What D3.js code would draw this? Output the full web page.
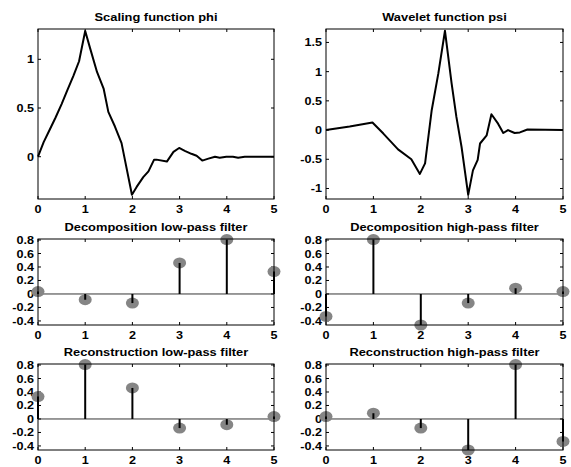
<!DOCTYPE html>
<meta charset="utf-8">
<style>
body { margin: 0; background: #fff; }
svg { display: block; }
text { font-family: "Liberation Sans", Arial, sans-serif; font-weight: bold; fill: #000; }
.title { font-size: 11px; }
.tick { font-size: 10.5px; }
.box { fill: none; stroke: #000; stroke-width: 1px; }
.curve { fill: none; stroke: #000; stroke-width: 2px; stroke-linejoin: round; }
.stem { stroke: #000; stroke-width: 2px; }
.base { stroke: #000; stroke-width: 0.8px; }
.mark { fill: #858585; }
</style>
<body>
<svg width="571" height="467"></svg>
<script src="https://d3js.org/d3.v7.min.js"></script>
<script>

// (db3)
var phiX = [0, 0.12, 0.25, 0.37, 0.5, 0.62, 0.75, 0.87, 1, 1.1, 1.25, 1.39, 1.49, 1.63, 1.77, 1.99,
            2.09, 2.23, 2.34, 2.46, 2.51, 2.73, 2.87, 2.99, 3.11, 3.25, 3.36, 3.48, 3.61, 3.75,
            3.85, 3.99, 4.13, 4.24, 4.38, 5];
var phiY = [0, 0.15, 0.28, 0.40, 0.54, 0.68, 0.83, 0.98, 1.29, 1.12, 0.87, 0.70, 0.46, 0.31, 0.14, -0.39,
            -0.31, -0.21, -0.15, -0.03, -0.03, -0.05, 0.05, 0.09, 0.06, 0.03, 0.01, -0.04, -0.02, 0,
            -0.01, 0, 0, -0.01, 0, 0];

var psiX = [0, 0.5, 0.98, 1.21, 1.52, 1.80, 1.98, 2.09, 2.23, 2.37, 2.51, 2.65, 2.75, 2.86, 3.0,
            3.1, 3.2, 3.25, 3.39, 3.49, 3.63, 3.74, 3.84, 3.98, 4.09, 4.25, 5];
var psiY = [0, 0.06, 0.13, -0.06, -0.33, -0.50, -0.75, -0.57, 0.34, 0.97, 1.70, 0.80, 0.23, -0.29, -1.11,
            -0.69, -0.51, -0.23, -0.09, 0.27, 0.11, -0.05, 0, -0.05, -0.04, 0.01, 0];

var loD = [0.0352, -0.0854, -0.1350, 0.4599, 0.8069, 0.3327];
var hiD = [-0.3327, 0.8069, -0.4599, -0.1350, 0.0854, 0.0352];
var loR = [0.3327, 0.8069, 0.4599, -0.1350, -0.0854, 0.0352];
var hiR = [0.0352, 0.0854, -0.1350, -0.4599, 0.8069, -0.3327];

var xTicks = [0, 1, 2, 3, 4, 5];
var phiTicks = [0, 0.5, 1];
var psiTicks = [-1, -0.5, 0, 0.5, 1, 1.5];
var filtTicks = [-0.4, -0.2, 0, 0.2, 0.4, 0.6, 0.8];

var svg = d3.select("svg");

var cols = [[38, 274], [326, 563]];
var rows = [[29, 199], [239, 325], [364, 450]];

// the reference text is a little wider than the font
function label(g, cls, x, y, anchor, str, sx) {
  g.append("text").attr("class", cls)
    .attr("transform", "translate(" + x + "," + y + ") scale(" + sx + ",1)")
    .attr("text-anchor", anchor).text(str);
}

function panel(col, row, title, yDomain, yTicks) {
  var x = d3.scaleLinear().domain([0, 5]).range(cols[col]);
  var y = d3.scaleLinear().domain(yDomain).range([rows[row][1], rows[row][0]]);
  var g = svg.append("g");
  var x0 = cols[col][0], x1 = cols[col][1], y0 = rows[row][0], y1 = rows[row][1];

  label(g, "title", (x0 + x1) / 2, y0 - 8, "middle", title, 1.17);

  // ticks (mirrored, inside)
  xTicks.forEach(function(t) {
    g.append("line").attr("class", "box").attr("x1", x(t)).attr("x2", x(t)).attr("y1", y1).attr("y2", y1 - 3);
    g.append("line").attr("class", "box").attr("x1", x(t)).attr("x2", x(t)).attr("y1", y0).attr("y2", y0 + 3);
    label(g, "tick", x(t), y1 + 14, "middle", t, 1.2);
  });
  yTicks.forEach(function(t) {
    g.append("line").attr("class", "box").attr("x1", x0).attr("x2", x0 + 3).attr("y1", y(t)).attr("y2", y(t));
    g.append("line").attr("class", "box").attr("x1", x1).attr("x2", x1 - 3).attr("y1", y(t)).attr("y2", y(t));
    label(g, "tick", x0 - 4, y(t) + 4, "end", t, 1.2);
  });

  return {g: g, x: x, y: y, box: function() {
    g.append("rect").attr("class", "box").attr("x", x0).attr("y", y0)
      .attr("width", x1 - x0).attr("height", y1 - y0);
  }};
}

function curvePanel(col, title, xs, ys, yDomain, yTicks) {
  var p = panel(col, 0, title, yDomain, yTicks);
  var line = d3.line().x(function(d) { return p.x(d[0]); }).y(function(d) { return p.y(d[1]); });
  p.g.append("path").attr("class", "curve").attr("d", line(d3.zip(xs, ys)));
  p.box();
}

function stemPanel(col, row, title, vals) {
  var p = panel(col, row, title, [-0.46, 0.815], filtTicks);
  p.g.append("line").attr("class", "base")
    .attr("x1", p.x(0)).attr("x2", p.x(5)).attr("y1", p.y(0)).attr("y2", p.y(0));
  p.g.selectAll(".mark").data(vals).enter().append("ellipse").attr("class", "mark")
    .attr("cx", function(d, i) { return p.x(i); })
    .attr("cy", function(d) { return p.y(d); })
    .attr("rx", 6.5).attr("ry", 5.5);
  p.g.selectAll(".stem").data(vals).enter().append("line").attr("class", "stem")
    .attr("x1", function(d, i) { return p.x(i); })
    .attr("x2", function(d, i) { return p.x(i); })
    .attr("y1", p.y(0))
    .attr("y2", function(d) { return p.y(d); });
  p.box();
}

curvePanel(0, "Scaling function phi", phiX, phiY, [-0.434, 1.311], phiTicks);
curvePanel(1, "Wavelet function psi", psiX, psiY, [-1.18, 1.73], psiTicks);
stemPanel(0, 1, "Decomposition low-pass filter", loD);
stemPanel(1, 1, "Decomposition high-pass filter", hiD);
stemPanel(0, 2, "Reconstruction low-pass filter", loR);
stemPanel(1, 2, "Reconstruction high-pass filter", hiR);

</script>
